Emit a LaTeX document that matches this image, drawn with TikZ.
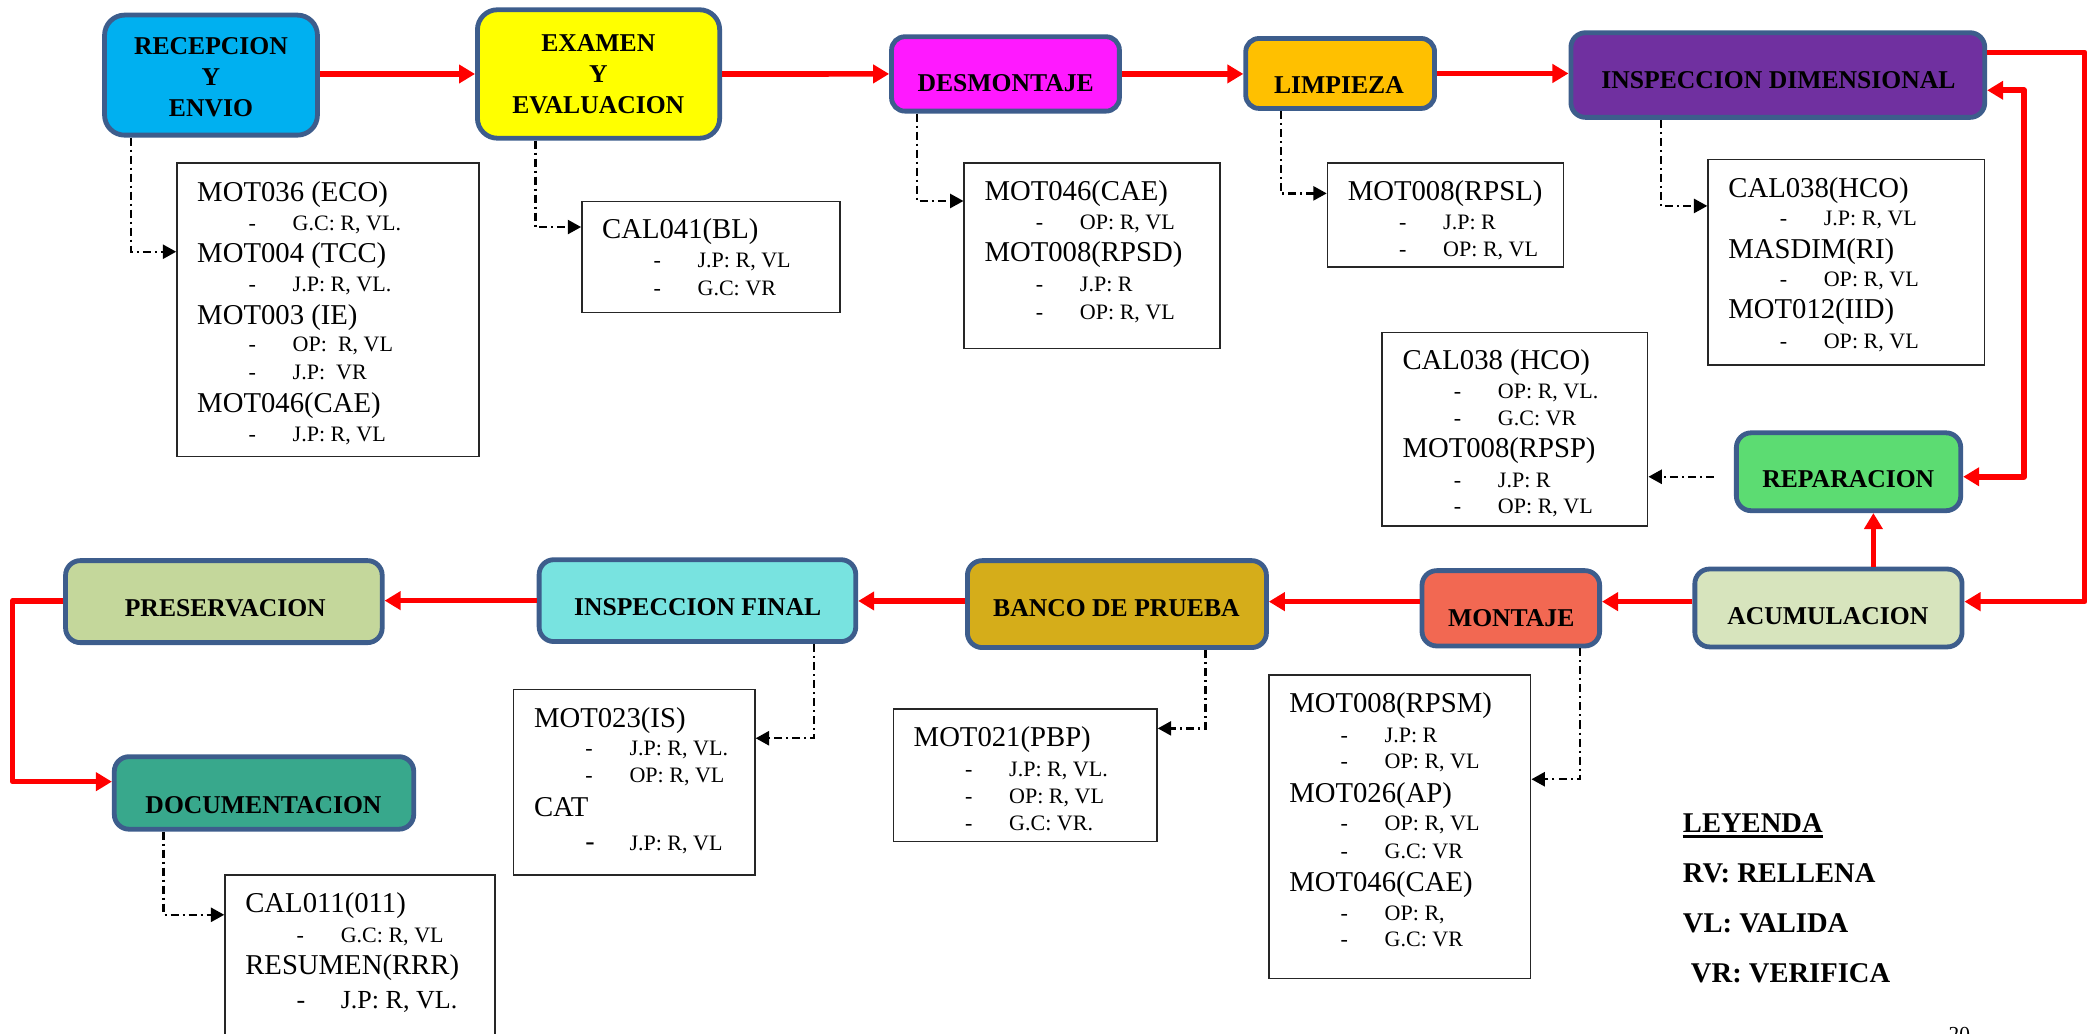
\documentclass[tikz,border=0pt]{standalone}
\usepackage{fontspec}
\setmainfont{Liberation Serif}
\usetikzlibrary{arrows.meta}
\definecolor{bord}{RGB}{61,93,140}
\definecolor{cRecep}{RGB}{0,176,240}
\definecolor{cExam}{RGB}{255,255,0}
\definecolor{cDesm}{RGB}{255,25,255}
\definecolor{cLimp}{RGB}{255,192,0}
\definecolor{cInsp}{RGB}{112,48,160}
\definecolor{cRep}{RGB}{92,220,114}
\definecolor{cAcum}{RGB}{215,228,189}
\definecolor{cMont}{RGB}{242,104,82}
\definecolor{cBanco}{RGB}{213,173,26}
\definecolor{cInspf}{RGB}{120,227,224}
\definecolor{cPres}{RGB}{196,215,155}
\definecolor{cDoc}{RGB}{56,168,140}
\newcommand\NH[4]{\node[hd] (#1) at (#2+15,#3+7.1) {#4};}
\newcommand\NI[4]{\node[sb] (#1) at (#2+53.5,#3+5.5) {\makebox[33pt][l]{-}#4};}
\begin{document}
\begin{tikzpicture}[x=1pt,y=-1pt,
  proc/.style={draw=bord, line width=3.6pt, inner sep=0pt},
  lbl/.style={font=\bfseries\fontsize{19.2}{23.3}\selectfont, align=center, inner sep=0pt},
  flow/.style={draw=red, line width=4.2pt, line join=round, -{Triangle[length=12pt,width=13.5pt]}},
  flowtwo/.style={draw=red, line width=4.2pt, line join=round, {Triangle[length=12pt,width=13.5pt]}-{Triangle[length=12pt,width=13.5pt]}},
  dd/.style={draw=black, line width=1.8pt, dash pattern=on 6pt off 3pt on 1.5pt off 3pt, -{Triangle[length=10pt,width=10.5pt]}},
  note/.style={draw=black!85, line width=1.1pt, inner sep=0pt},
  hd/.style={anchor=base west, inner sep=0pt, font=\fontsize{21.5}{24}\selectfont},
  sb/.style={anchor=base west, inner sep=0pt, font=\fontsize{16.5}{18}\selectfont},
  leg/.style={anchor=base west, inner sep=0pt, font=\bfseries\fontsize{21.4}{24}\selectfont}]
\useasboundingbox (0,0) rectangle (1568,774);
\fill[white] (0,0) rectangle (1568,774);

% process boxes
\node[proc, fill=cRecep, rounded corners=15pt, minimum width=159.4, minimum height=89.9] (recep) at (158,56.25) {};
\node[proc, fill=cExam, rounded corners=15pt, minimum width=181.4, minimum height=96.2] (exam) at (448.2,55.4) {};
\node[proc, fill=cDesm, rounded corners=10pt, minimum width=170.6, minimum height=55.7] (desm) at (752.9,55.35) {};
\node[proc, fill=cLimp, rounded corners=10pt, minimum width=141.4, minimum height=52.4] (limp) at (1003.5,55) {};
\node[proc, fill=cInsp, rounded corners=11pt, minimum width=309.9, minimum height=63.4] (insp) at (1331.25,56.2) {};
\node[proc, fill=cRep, rounded corners=11pt, minimum width=168, minimum height=58.3] (rep) at (1384.2,353.25) {};
\node[proc, fill=cAcum, rounded corners=11pt, minimum width=200.1, minimum height=58.3] (acum) at (1369.15,455.25) {};
\node[proc, fill=cMont, rounded corners=11pt, minimum width=133, minimum height=56.4] (mont) at (1131.3,455.5) {};
\node[proc, fill=cBanco, rounded corners=11pt, minimum width=223.9, minimum height=65.1] (banco) at (836.35,452.35) {};
\node[proc, fill=cInspf, rounded corners=11pt, minimum width=237.1, minimum height=61.3] (inspf) at (522.25,449.75) {};
\node[proc, fill=cPres, rounded corners=11pt, minimum width=237.1, minimum height=61.4] (pres) at (167.65,450.5) {};
\node[proc, fill=cDoc, rounded corners=11pt, minimum width=224.2, minimum height=54.3] (doc) at (197.7,593.75) {};

% labels
\node[lbl] (recepT) at (158,58) {RECEPCION\\Y\\ENVIO};
\node[lbl] (examT) at (448,55.4) {EXAMEN\\Y\\EVALUACION};
\node[lbl] (desmT) at (753,62.4) {DESMONTAJE};
\node[lbl] (limpT) at (1002.6,63.6) {LIMPIEZA};
\node[lbl] (inspT) at (1331.7,59.8) {INSPECCION DIMENSIONAL};
\node[lbl] (repT) at (1384,358.9) {REPARACION};
\node[lbl] (acumT) at (1368.7,461.3) {ACUMULACION};
\node[lbl] (montT) at (1131.6,463) {MONTAJE};
\node[lbl] (bancoT) at (836,455.5) {BANCO DE PRUEBA};
\node[lbl] (inspfT) at (522.4,454.3) {INSPECCION FINAL};
\node[lbl] (presT) at (168.7,455.5) {PRESERVACION};
\node[lbl] (docT) at (197.3,602.8) {DOCUMENTACION};

% note boxes
\node[note, minimum width=226.1, minimum height=220] (nA) at (245.55,232) {};
\node[note, minimum width=193.3, minimum height=83] (nB) at (532.35,192.5) {};
\node[note, minimum width=191.5, minimum height=139] (nC) at (817.75,191.5) {};
\node[note, minimum width=176.6, minimum height=77.8] (nD) at (1082.3,160.9) {};
\node[note, minimum width=207, minimum height=153.9] (nE) at (1382.5,196.35) {};
\node[note, minimum width=198.8, minimum height=144.9] (nF) at (1134.4,321.25) {};
\node[note, minimum width=180.6, minimum height=139] (nG) at (475,585.7) {};
\node[note, minimum width=197.4, minimum height=99.3] (nH) at (767.7,580.55) {};
\node[note, minimum width=196, minimum height=227.2] (nI) at (1048.2,619) {};
\node[note, minimum width=202, minimum height=144.8] (nJ) at (269.5,727.6) {};

% note texts
\NH{a1}{132.5}{143.5}{MOT036 (ECO)}
\NI{a2}{132.5}{167}{G.C: R, VL.}
\NH{a3}{132.5}{189.7}{MOT004 (TCC)}
\NI{a4}{132.5}{213}{J.P: R, VL.}
\NH{a5}{132.5}{236}{MOT003 (IE)}
\NI{a6}{132.5}{258}{OP:\ \ R, VL}
\NI{a7}{132.5}{279}{J.P:\ \ VR}
\NH{a8}{132.5}{302}{MOT046(CAE)}
\NI{a9}{132.5}{325}{J.P: R, VL}

\NH{b1}{435.7}{171.7}{CAL041(BL)}
\NI{b2}{435.7}{194.7}{J.P: R, VL}
\NI{b3}{435.7}{216}{G.C: VR}

\NH{c1}{722}{142.8}{MOT046(CAE)}
\NI{c2}{722}{166}{OP: R, VL}
\NH{c3}{722}{189}{MOT008(RPSD)}
\NI{c4}{722}{212.7}{J.P: R}
\NI{c5}{722}{233.4}{OP: R, VL}

\NH{d1}{994}{143}{MOT008(RPSL)}
\NI{d2}{994}{166.3}{J.P: R}
\NI{d3}{994}{186.2}{OP: R, VL}

\NH{e1}{1279}{140.5}{CAL038(HCO)}
\NI{e2}{1279}{163}{J.P: R, VL}
\NH{e3}{1279}{186.2}{MASDIM(RI)}
\NI{e4}{1279}{208.9}{OP: R, VL}
\NH{e5}{1279}{231.5}{MOT012(IID)}
\NI{e6}{1279}{255.3}{OP: R, VL}

\NH{f1}{1035}{269.4}{CAL038 (HCO)}
\NI{f2}{1035}{293.2}{OP: R, VL.}
\NI{f3}{1035}{313.3}{G.C: VR}
\NH{f4}{1035}{335.7}{MOT008(RPSP)}
\NI{f5}{1035}{359.7}{J.P: R}
\NI{f6}{1035}{379}{OP: R, VL}

\NH{g1}{384.7}{537.9}{MOT023(IS)}
\NI{g2}{384.7}{560.3}{J.P: R, VL.}
\NI{g3}{384.7}{580.3}{OP: R, VL}
\NH{g4}{384.7}{604}{CAT}
\node[sb] (g5) at (384.7+53.5,631+5.5) {\makebox[33pt][l]{\fontsize{21}{22}\selectfont -}J.P: R, VL};

\NH{h1}{669}{551.6}{MOT021(PBP)}
\NI{h2}{669}{576}{J.P: R, VL.}
\NI{h3}{669}{596}{OP: R, VL}
\NI{h4}{669}{616.5}{G.C: VR.}

\NH{i1}{950.2}{526.6}{MOT008(RPSM)}
\NI{i2}{950.2}{550.4}{J.P: R}
\NI{i3}{950.2}{570.3}{OP: R, VL}
\NH{i4}{950.2}{594}{MOT026(AP)}
\NI{i5}{950.2}{616.5}{OP: R, VL}
\NI{i6}{950.2}{637}{G.C: VR}
\NH{i7}{950.2}{660.2}{MOT046(CAE)}
\NI{i8}{950.2}{683.4}{OP: R,}
\NI{i9}{950.2}{703.3}{G.C: VR}

\NH{j1}{168.5}{676.4}{CAL011(011)}
\NI{j2}{168.5}{700.1}{G.C: R, VL}
\NH{j3}{168.5}{722.6}{RESUMEN(RRR)}
\node[sb, font=\fontsize{19.5}{22}\selectfont] (j4) at (168.5+53.5,748.8+6.5) {\makebox[33pt][l]{-}J.P: R, VL.};

% red flow
\draw[flow] ([yshift=0.85pt]recep.east) -- (exam.west);
\draw[flow] (exam.east) -- (desm.west);
\draw[flow] (desm.east) -- (desm.east -| limp.west);
\draw[flow] (limp.east) -- (limp.east -| insp.west);
\coordinate (cR) at (1561,39.2);
\draw[flow] ([yshift=17pt]insp.east) -- (cR) |- ([yshift=4.75pt]acum.east);
\draw[flow] ([yshift=4.75pt]acum.west) -- ([yshift=4.75pt]acum.west -| mont.east);
\draw[flow] ([yshift=5pt]mont.west) -- ([yshift=5pt]mont.west -| banco.east);
\draw[flow] ([yshift=2.35pt]banco.west) -- ([yshift=2.35pt]banco.west -| inspf.east);
\draw[flow] (inspf.west) -- (inspf.west -| pres.east);
\coordinate (cL) at (9.4,450);
\draw[flow] ([yshift=0.5pt]pres.west) -- (cL) |- ([yshift=8.45pt]doc.west);
\draw[flow] ([xshift=33.65pt]acum.north) -- ([xshift=33.65pt]acum.north |- rep.south);
\coordinate (cRet) at (1515.6,67.6);
\draw[flowtwo] ([yshift=-3.75pt]rep.east) -| (cRet) -- (cRet -| insp.east);

% dash-dot links
\draw[dd] ([xshift=-60pt]recep.south) |- ([yshift=43.5pt]nA.west);
\draw[dd] ([xshift=-47.2pt]exam.south) |- ([yshift=22.5pt]nB.west);
\draw[dd] ([xshift=-66.1pt]desm.south) |- ([yshift=41pt]nC.west);
\draw[dd] ([xshift=-44.5pt]limp.south) |- ([yshift=16.1pt]nD.west);
\draw[dd] ([xshift=-87.5pt]insp.south) |- ([yshift=42.15pt]nE.west);
\draw[dd, shorten <=15pt] ([yshift=-3.75pt]rep.west) -- ([yshift=-3.75pt]rep.west -| nF.east);
\draw[dd] ([xshift=87.25pt]inspf.south) |- ([yshift=32.9pt]nG.east);
\draw[dd] ([xshift=66.25pt]banco.south) |- ([yshift=35.15pt]nH.east);
\draw[dd] ([xshift=51.7pt]mont.south) |- ([yshift=35.5pt]nI.east);
\draw[dd] ([xshift=-75.2pt]doc.south) |- ([yshift=42.6pt]nJ.west);

% legend
\node[leg] (legT) at (1260,623.6) {LEYENDA};
\draw[line width=2.5pt] ([yshift=-2.6pt]legT.base west) -- ([yshift=-2.6pt]legT.base east);
\node[leg] (legRV) at (1260,661.1) {RV: RELLENA};
\node[leg] (legVL) at (1260,698.5) {VL: VALIDA};
\node[leg] (legVR) at (1266,735.4) {VR: VERIFICA};
\node[anchor=north west, inner sep=0pt, font=\fontsize{16}{18}\selectfont] (pg) at (1459,769) {20};
\end{tikzpicture}
\end{document}
